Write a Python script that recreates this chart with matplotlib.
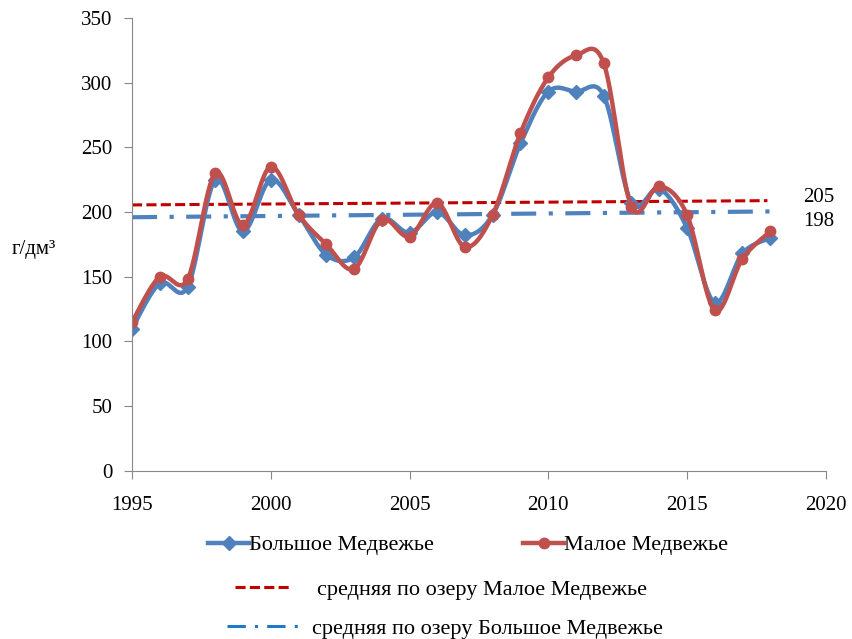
import numpy as np
import matplotlib.pyplot as plt
from matplotlib.lines import Line2D

plt.rcParams['font.family'] = ['Liberation Serif', 'DejaVu Serif']

years = list(range(1995, 2019))
bolshoe = [110, 145, 142, 225, 185, 225, 198, 167, 165, 195, 184, 200,
           182, 198, 253, 293, 293, 290, 207, 218, 188, 130, 168, 180]
maloe = [115, 150, 148, 230, 190, 235, 198, 175, 156, 194, 181, 207,
         173, 198, 261, 304, 321, 315, 204, 220, 198, 124, 164, 185]

# trend lines (start / end)
trend_maloe_x = [1995, 2017.9]
trend_maloe_y = [205.5, 208.8]
trend_bolshoe_x = [1995, 2018.2]
trend_bolshoe_y = [196, 200.5]

label_maloe = "средняя по озеру Малое Медвежье"
label_bolshoe = "средняя по озеру Большое Медвежье"


def smooth(x, y, n=30):
    # Excel-like smoothing (Bezier through points)
    x = np.asarray(x, float)
    y = np.asarray(y, float)
    px = np.concatenate([[x[0]], x, [x[-1]]])
    py = np.concatenate([[y[0]], y, [y[-1]]])
    xs, ys = [], []
    t = np.linspace(0, 1, n)
    for i in range(1, len(px) - 2):
        p0 = np.array([px[i], py[i]])
        p3 = np.array([px[i + 1], py[i + 1]])
        c1 = p0 + (np.array([px[i + 1], py[i + 1]]) - np.array([px[i - 1], py[i - 1]])) / 6
        c2 = p3 - (np.array([px[i + 2], py[i + 2]]) - np.array([px[i], py[i]])) / 6
        b = ((1 - t) ** 3)[:, None] * p0 + (3 * (1 - t) ** 2 * t)[:, None] * c1 \
            + (3 * (1 - t) * t ** 2)[:, None] * c2 + (t ** 3)[:, None] * p3
        xs.extend(b[:, 0])
        ys.extend(b[:, 1])
    return np.array(xs), np.array(ys)


blue = '#4F81BD'
red = '#C0504D'

fig = plt.figure(figsize=(8.53, 6.39), dpi=100)
ax = fig.add_axes([0.1548, 0.263, 0.8132, 0.709])

ax.plot(trend_maloe_x, trend_maloe_y, color='#C00000', lw=2.2, dashes=(3.3, 1.4))
ax.plot(trend_bolshoe_x, trend_bolshoe_y, color=blue, lw=3, dashes=(6, 3, 1, 3))

sx, sy = smooth(years, bolshoe)
ax.plot(sx, sy, color=blue, lw=3.2)
ax.plot(years, bolshoe, ls='none', marker='D', ms=7.5, color=blue)
sx, sy = smooth(years, maloe)
ax.plot(sx, sy, color=red, lw=3.2)
ax.plot(years, maloe, ls='none', marker='o', ms=7.5, color=red)

ax.set_xlim(1995, 2020)
ax.set_ylim(0, 350)
ax.set_xticks(range(1995, 2021, 5))
ax.set_yticks(range(0, 351, 50))
for s in ['top', 'right']:
    ax.spines[s].set_visible(False)
for s in ['left', 'bottom']:
    ax.spines[s].set_color('#888888')
ax.tick_params(direction='out', length=6, color='#888888', labelsize=15, pad=8)
ax.tick_params(axis='x', pad=12)

ax.text(2019.2, 211, '205', fontsize=15, va='center', ha='left')
ax.text(2019.2, 192.5, '198', fontsize=15, va='center', ha='left')
fig.text(0.04, 0.609, 'г/дм³', fontsize=15, ha='center', va='center')

h1 = Line2D([], [], color=blue, lw=3.2, marker='D', ms=7.5)
h2 = Line2D([], [], color=red, lw=3.2, marker='o', ms=7.5)
leg1 = fig.legend([h1, h2], ['Большое Медвежье', 'Малое Медвежье'], ncol=2,
                  loc='center left', bbox_to_anchor=(0.244, 0.147), frameon=False,
                  borderpad=0, borderaxespad=0,
                  fontsize=16, handlelength=1.85, handletextpad=0.0, columnspacing=4.0)
h3 = Line2D([], [], color='#C00000', lw=2.2, dashes=(3.3, 1.4))
leg2 = fig.legend([h3], [label_maloe], loc='center left', bbox_to_anchor=(0.2755, 0.077),
                  frameon=False, borderpad=0, borderaxespad=0,
                  fontsize=16, handlelength=2.5, handletextpad=1.2)
h4 = Line2D([], [], color='#1F78C8', lw=2.2, dashes=(6, 3, 1, 3))
leg3 = fig.legend([h4], [label_bolshoe], loc='center left', bbox_to_anchor=(0.266, 0.016),
                  frameon=False, borderpad=0, borderaxespad=0,
                  fontsize=16, handlelength=3.3, handletextpad=0.55)

fig.savefig('out.png', dpi=100)
